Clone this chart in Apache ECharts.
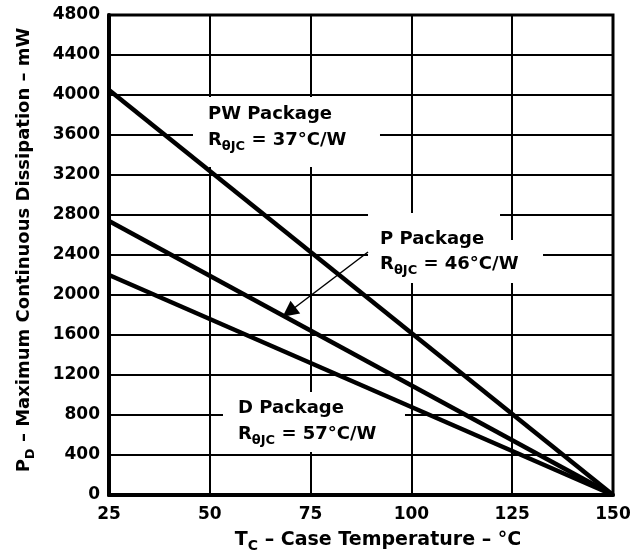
<!DOCTYPE html>
<html>
<head>
<meta charset="utf-8">
<script src="https://cdn.jsdelivr.net/npm/echarts@6/dist/echarts.min.js"></script>
<style>
html,body{margin:0;padding:0;background:#fff;}
#c{width:638px;height:558px;}
</style>
</head>
<body>
<div id="c"></div>
<script>
// Data
const temps = [25, 150];           // Case temperature, °C
const pwPower = [4050, 0];         // PW package, mW
const pPower = [2740, 0];          // P package, mW
const dPower = [2200, 0];          // D package, mW
const xTicks = [25, 50, 75, 100, 125, 150];
const yTicks = [0, 400, 800, 1200, 1600, 2000, 2400, 2800, 3200, 3600, 4000, 4400, 4800];

const FONT = 'DejaVu Sans';
const chart = echarts.init(document.getElementById('c'), null, {renderer: 'canvas'});

function pairs(xs, ys) { return xs.map((x, i) => [x, ys[i]]); }

const subRich = {
  a: {fontFamily: FONT, fontWeight: 'bold', fontSize: 18, color: '#000', lineHeight: 26},
  s: {fontFamily: FONT, fontWeight: 'bold', fontSize: 13, color: '#000', lineHeight: 12, verticalAlign: 'bottom'}
};

function annot(coord, text, pad, width) {
  return {
    value: coord,
    itemStyle: {opacity: 1},
    label: {
      show: true,
      position: [0, 0],
      align: 'left',
      verticalAlign: 'top',
      formatter: text,
      backgroundColor: '#fff',
      opacity: 1,
      padding: pad,
      width: width,
      rich: subRich
    }
  };
}

const option = {
  animation: false,
  backgroundColor: '#fff',
  grid: {left: 109, right: 25, top: 15, bottom: 63, show: true, borderColor: '#000', borderWidth: 3, backgroundColor: 'transparent'},
  xAxis: {
    type: 'value', min: xTicks[0], max: xTicks[xTicks.length - 1], interval: 25,
    axisLine: {show: true, lineStyle: {color: '#000', width: 4}},
    axisTick: {show: false},
    splitLine: {show: true, lineStyle: {color: '#000', width: 2}},
    axisLabel: {color: '#000', fontFamily: FONT, fontWeight: 'bold', fontSize: 17, margin: 11, formatter: v => String(v)},
    name: '{a|T}{s|C}{a| – Case Temperature – °C}',
    nameLocation: 'middle', nameGap: 32,
    nameTextStyle: {padding: [0, 0, 0, 34], rich: {
      a: {fontFamily: FONT, fontWeight: 'bold', fontSize: 19, color: '#000', lineHeight: 26},
      s: {fontFamily: FONT, fontWeight: 'bold', fontSize: 14, color: '#000', lineHeight: 12, verticalAlign: 'bottom'}
    }}
  },
  yAxis: {
    type: 'value', min: yTicks[0], max: yTicks[yTicks.length - 1], interval: 400,
    axisLine: {show: true, lineStyle: {color: '#000', width: 4}},
    axisTick: {show: false},
    splitLine: {show: true, lineStyle: {color: '#000', width: 2}},
    axisLabel: {color: '#000', fontFamily: FONT, fontWeight: 'bold', fontSize: 17, margin: 9, formatter: v => String(v)},
    name: '{a|P}{s|D}{a| – Maximum Continuous Dissipation – mW}',
    nameLocation: 'middle', nameGap: 72,
    nameTextStyle: {padding: [0, 0, 0, 10], rich: subRich}
  },
  series: [
    {
      type: 'scatter', symbolSize: 0, silent: true, z: 1,
      itemStyle: {opacity: 1},
      data: [
        annot([45.83, 3980], '{a|PW Package}\n{a|R}{s|θJC}{a| = 37°C/W}', [4, 0, 14, 15], 172),
        annot([53.27, 1030], '{a|D Package}\n{a|R}{s|θJC}{a| = 57°C/W}', [3, 0, 5, 15], 167),
        annot([89.24, 2550], '{a|R}{s|θJC}{a| = 46°C/W}', [11, 0, 6, 12], 163),
        annot([89.24, 2820], '{a|P Package}', [13, 0, 0, 12], 120)
      ]
    },
    {type: 'line', data: pairs(temps, pwPower), symbol: 'none', lineStyle: {color: '#000', width: 4.5}, z: 3},
    {type: 'line', data: pairs(temps, pPower), symbol: 'none', lineStyle: {color: '#000', width: 4.5}, z: 3,
      markLine: {
        silent: true, symbol: ['none', 'triangle'], symbolSize: 16,
        label: {show: false},
        lineStyle: {color: '#000', width: 1.5, type: 'solid'},
        itemStyle: {color: '#000'},
        emphasis: {disabled: true},
        data: [[{coord: [89.24, 2430]}, {coord: [69.64, 1830]}]]
      }
    },
    {type: 'line', data: pairs(temps, dPower), symbol: 'none', lineStyle: {color: '#000', width: 4.5}, z: 3}
  ]
};
chart.setOption(option);
</script>
</body>
</html>
